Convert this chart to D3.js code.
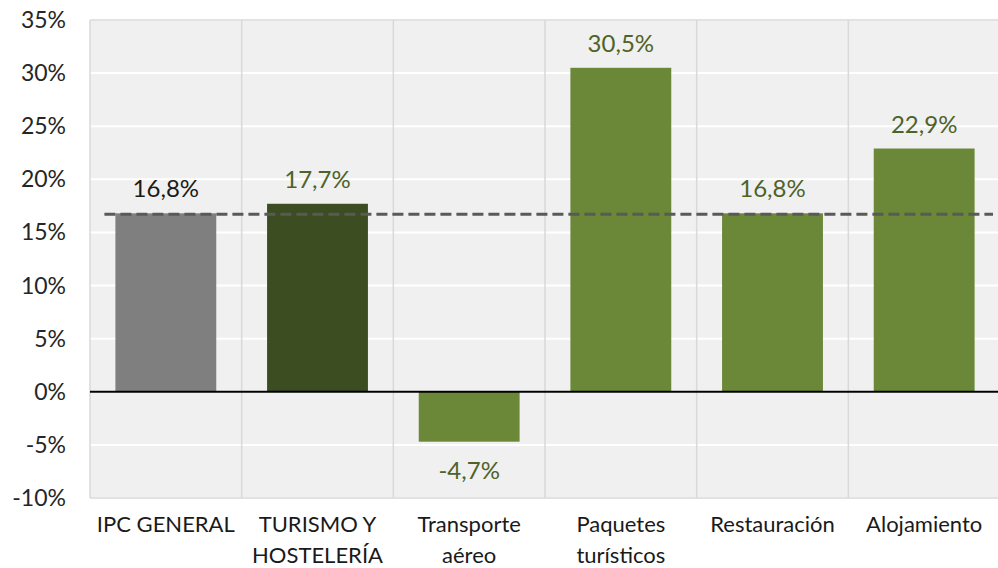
<!DOCTYPE html>
<html>
<head>
<meta charset="utf-8">
<script src="https://cdn.jsdelivr.net/npm/d3@7"></script>
<style>
  body { margin: 0; background: #fff; overflow: hidden; }
  text { font-family: Lato, "Liberation Sans", sans-serif; }
</style>
</head>
<body>
<div id="chart"></div>
<script>
const categories = [["IPC GENERAL"], ["TURISMO Y", "HOSTELERÍA"], ["Transporte", "aéreo"], ["Paquetes", "turísticos"], ["Restauración"], ["Alojamiento"]]
const values = [16.8, 17.7, -4.7, 30.5, 16.8, 22.9]
const valueLabels = ["16,8%", "17,7%", "-4,7%", "30,5%", "16,8%", "22,9%"]
const reference = 16.8
const yTicks = [-10, -5, 0, 5, 10, 15, 20, 25, 30, 35]

const barColors = ["#7f7f7f", "#3b4d21", "#6b8738", "#6b8738", "#6b8738", "#6b8738"]
const labelColors = ["#1a1a1a", "#4f6228", "#4f6228", "#4f6228", "#4f6228", "#4f6228"]

const margin = { top: 20, left: 90, right: -2, bottom: 70 },
      width = 998 - margin.left - margin.right,
      height = 568 - margin.top - margin.bottom;

const svg = d3.select("#chart")
    .append("svg")
    .attr("width", 998)
    .attr("height", 568)

const plot = svg.append("g")
    .attr("transform", "translate(" + margin.left + "," + margin.top + ")")

const x = d3.scaleBand()
    .domain(d3.range(categories.length))
    .range([0, width])
    .paddingInner(0.335)
    .paddingOuter(0.1675)

const y = d3.scaleLinear()
    .domain([-10, 35])
    .range([height, 0])

// plot background
plot.append("rect")
    .attr("width", width)
    .attr("height", height)
    .attr("fill", "#f0f0f0")

// horizontal gridlines (white)
plot.selectAll(".hgrid")
    .data(yTicks)
    .enter()
    .append("line")
    .attr("x1", 0)
    .attr("x2", width)
    .attr("y1", d => y(d))
    .attr("y2", d => y(d))
    .attr("stroke", "#fff")
    .attr("stroke-width", 2)

// vertical separators between categories
const step = x.step()
plot.selectAll(".vgrid")
    .data(d3.range(categories.length))
    .enter()
    .append("line")
    .attr("x1", i => i * step)
    .attr("x2", i => i * step)
    .attr("y1", 0)
    .attr("y2", height)
    .attr("stroke", "#d9d9d9")
    .attr("stroke-width", 1.5)

plot.append("line")
    .attr("x1", 0).attr("x2", width)
    .attr("y1", 0).attr("y2", 0)
    .attr("stroke", "#d9d9d9").attr("stroke-width", 1.5)
plot.append("line")
    .attr("x1", 0).attr("x2", width)
    .attr("y1", height).attr("y2", height)
    .attr("stroke", "#d9d9d9").attr("stroke-width", 1.5)

// bars
plot.selectAll(".bar")
    .data(values)
    .enter()
    .append("rect")
    .attr("x", (d, i) => x(i))
    .attr("width", x.bandwidth())
    .attr("y", d => y(Math.max(0, d)))
    .attr("height", d => Math.abs(y(d) - y(0)))
    .attr("fill", (d, i) => barColors[i])

// zero line
plot.append("line")
    .attr("x1", 0).attr("x2", width)
    .attr("y1", y(0)).attr("y2", y(0))
    .attr("stroke", "#000").attr("stroke-width", 2)

// reference dashed line
plot.append("line")
    .attr("x1", x(0) - 11)
    .attr("x2", 998 - margin.left - 5)
    .attr("y1", y(reference) + 1)
    .attr("y2", y(reference) + 1)
    .attr("stroke", "#595959")
    .attr("stroke-width", 3)
    .attr("stroke-dasharray", "11,5")

// value labels
plot.selectAll(".vlabel")
    .data(values)
    .enter()
    .append("text")
    .attr("x", (d, i) => x(i) + x.bandwidth() / 2)
    .attr("y", d => d >= 0 ? y(d) - 16 : y(d) + 37)
    .attr("text-anchor", "middle")
    .attr("font-size", 24)
    .attr("fill", (d, i) => labelColors[i])
    .text((d, i) => valueLabels[i])

// y axis labels
plot.selectAll(".ytick")
    .data(yTicks)
    .enter()
    .append("text")
    .attr("x", -24)
    .attr("y", d => y(d))
    .attr("dy", "0.35em")
    .attr("text-anchor", "end")
    .attr("font-size", 23)
    .attr("fill", "#262626")
    .text(d => d + "%")

// category labels
const cat = plot.selectAll(".xlabel")
    .data(categories)
    .enter()
    .append("text")
    .attr("text-anchor", "middle")
    .attr("font-size", 22)
    .attr("fill", "#1a1a1a")
    .attr("transform", (d, i) => "translate(" + (x(i) + x.bandwidth() / 2) + "," + (height + 34) + ")")

cat.selectAll("tspan")
    .data(d => d)
    .enter()
    .append("tspan")
    .attr("x", 0)
    .attr("dy", (d, i) => i === 0 ? 0 : 31)
    .text(d => d)
</script>
</body>
</html>
